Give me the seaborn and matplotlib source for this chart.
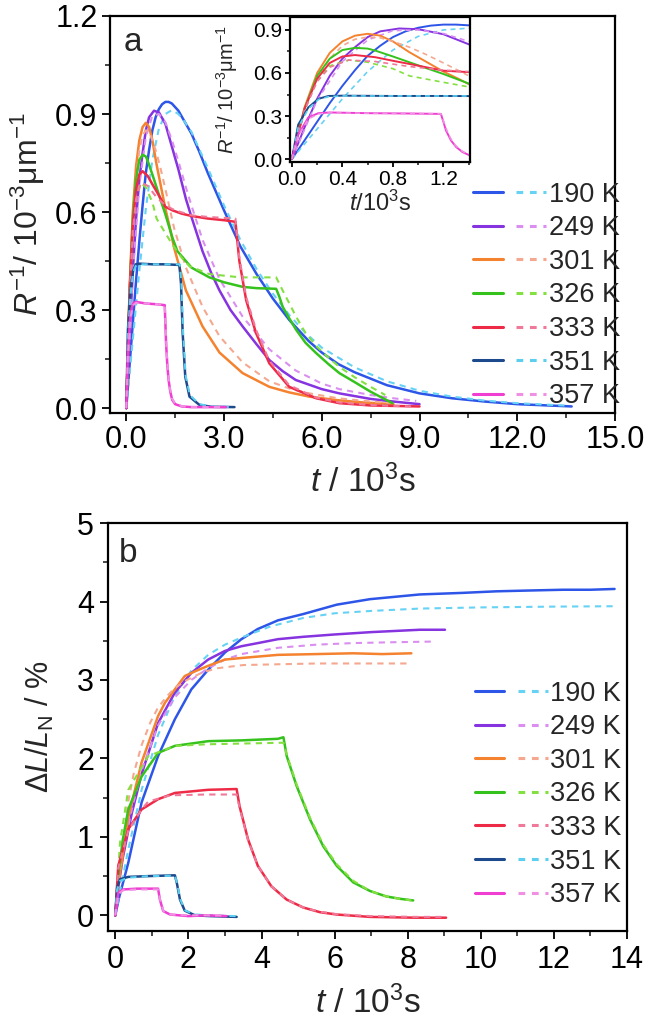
import matplotlib
matplotlib.use("Agg")
import matplotlib.pyplot as plt
from matplotlib.lines import Line2D
from matplotlib.legend_handler import HandlerTuple
from matplotlib.ticker import MultipleLocator, FormatStrFormatter
import seaborn as sns

# ---- panel a: R^-1 (10^-3 um^-1) vs t (10^3 s), measured + fit ----
a190_t = [0, 0.1, 0.2, 0.3, 0.4, 0.5, 0.6, 0.7, 0.8, 0.9, 1.0, 1.1, 1.2, 1.3, 1.4, 1.6, 1.8, 2.0, 2.24, 2.5, 2.76, 3.0, 3.5, 4.0, 4.5, 5.0, 5.6, 6.0, 6.5, 7.0, 8.0, 9.0, 10.0, 11.0, 12.0, 13.67]
a190_r = [0, 0.13, 0.26, 0.39, 0.51, 0.62, 0.72, 0.79, 0.85, 0.89, 0.915, 0.93, 0.937, 0.937, 0.932, 0.91, 0.875, 0.84, 0.785, 0.72, 0.66, 0.605, 0.495, 0.41, 0.335, 0.27, 0.205, 0.17, 0.135, 0.11, 0.07, 0.045, 0.03, 0.02, 0.012, 0.005]
a190f_t = [0, 0.2, 0.4, 0.6, 0.8, 1.0, 1.2, 1.4, 1.6, 1.8, 2.0, 2.5, 3.0, 3.5, 4.0, 4.5, 5.0, 5.5, 6.0, 7.0, 8.0, 9.0, 10.0, 11.0, 12.0, 13.6]
a190f_r = [0, 0.21, 0.42, 0.61, 0.76, 0.855, 0.9, 0.912, 0.9, 0.875, 0.845, 0.735, 0.62, 0.515, 0.425, 0.35, 0.285, 0.23, 0.185, 0.125, 0.082, 0.053, 0.035, 0.023, 0.015, 0.007]

a249_t = [0, 0.1, 0.2, 0.3, 0.4, 0.5, 0.6, 0.7, 0.85, 1.0, 1.2, 1.4, 1.6, 1.83, 2.0, 2.34, 2.6, 2.86, 3.2, 3.57, 4.0, 4.39, 4.8, 5.2, 6.0, 6.54, 7.5, 8.2, 9.0]
a249_r = [0, 0.22, 0.42, 0.58, 0.70, 0.78, 0.85, 0.89, 0.91, 0.905, 0.87, 0.80, 0.73, 0.64, 0.585, 0.48, 0.415, 0.36, 0.30, 0.25, 0.195, 0.147, 0.113, 0.086, 0.058, 0.045, 0.028, 0.02, 0.012]
a249f_t = [0, 0.2, 0.4, 0.6, 0.8, 1.0, 1.2, 1.4, 1.6, 1.83, 2.0, 2.34, 2.86, 3.57, 4.39, 5.2, 6.0, 6.54, 7.5, 8.2, 8.9]
a249f_r = [0, 0.41, 0.68, 0.83, 0.895, 0.9, 0.875, 0.82, 0.755, 0.675, 0.62, 0.515, 0.395, 0.28, 0.18, 0.115, 0.075, 0.058, 0.04, 0.03, 0.022]

a301_t = [0, 0.1, 0.2, 0.3, 0.4, 0.5, 0.6, 0.7, 0.8, 0.93, 1.06, 1.2, 1.33, 1.47, 1.83, 2.34, 2.86, 3.57, 4.39, 5.0, 5.62, 6.5, 7.3, 8.2]
a301_r = [0, 0.36, 0.6, 0.74, 0.82, 0.86, 0.873, 0.86, 0.82, 0.745, 0.68, 0.61, 0.555, 0.49, 0.36, 0.25, 0.17, 0.107, 0.065, 0.048, 0.035, 0.024, 0.017, 0.012]
a301f_t = [0, 0.1, 0.2, 0.3, 0.4, 0.5, 0.6, 0.7, 0.8, 0.93, 1.06, 1.2, 1.47, 1.83, 2.34, 2.86, 3.57, 4.39, 5.0, 5.62, 6.5, 7.3, 8.2]
a301f_r = [0, 0.33, 0.56, 0.7, 0.79, 0.835, 0.85, 0.845, 0.82, 0.78, 0.73, 0.67, 0.55, 0.43, 0.31, 0.22, 0.14, 0.082, 0.06, 0.045, 0.03, 0.022, 0.015]

a326_t = [0, 0.1, 0.2, 0.3, 0.4, 0.5, 0.6, 0.66, 0.8, 0.93, 1.06, 1.2, 1.42, 1.57, 2.0, 2.55, 3.0, 3.57, 4.0, 4.6, 4.7, 4.8, 5.0, 5.21, 5.5, 5.83, 6.2, 6.54, 7.0, 7.5, 8.17]
a326_r = [0, 0.35, 0.58, 0.7, 0.76, 0.775, 0.77, 0.756, 0.715, 0.675, 0.635, 0.593, 0.52, 0.48, 0.43, 0.40, 0.385, 0.371, 0.367, 0.365, 0.34, 0.31, 0.275, 0.24, 0.2, 0.168, 0.135, 0.107, 0.08, 0.05, 0.015]
a326f_t = [0, 0.1, 0.2, 0.3, 0.45, 0.6, 0.8, 0.93, 1.2, 1.42, 1.7, 1.94, 2.55, 3.5, 4.6, 4.8, 5.21, 5.5, 5.83, 6.2, 6.54, 7.0, 7.5, 7.95]
a326f_r = [0, 0.34, 0.55, 0.65, 0.69, 0.675, 0.63, 0.58, 0.535, 0.50, 0.46, 0.434, 0.41, 0.40, 0.40, 0.36, 0.28, 0.23, 0.19, 0.155, 0.126, 0.095, 0.065, 0.04]

a333_t = [0, 0.1, 0.2, 0.3, 0.4, 0.5, 0.66, 0.8, 0.93, 1.2, 1.42, 1.7, 2.0, 2.5, 3.0, 3.35, 3.47, 3.68, 3.98, 4.39, 5.0, 5.83, 6.54, 7.5, 9.0]
a333_r = [0, 0.35, 0.56, 0.67, 0.715, 0.725, 0.71, 0.685, 0.663, 0.616, 0.605, 0.595, 0.588, 0.58, 0.575, 0.57, 0.45, 0.33, 0.23, 0.137, 0.065, 0.03, 0.015, 0.008, 0.005]
a333f_t = [0, 0.1, 0.2, 0.3, 0.45, 0.66, 0.93, 1.2, 1.5, 2.0, 2.5, 3.0, 3.35, 3.47, 3.68, 3.98, 4.39, 5.0, 5.83, 6.54, 7.5, 8.8]
a333f_r = [0, 0.34, 0.54, 0.64, 0.69, 0.68, 0.645, 0.62, 0.605, 0.59, 0.585, 0.582, 0.58, 0.46, 0.34, 0.24, 0.145, 0.07, 0.032, 0.017, 0.009, 0.005]

a351_t = [0, 0.05, 0.13, 0.21, 0.29, 0.4, 0.8, 1.2, 1.63, 1.68, 1.73, 1.81, 1.94, 2.24, 2.6, 3.32]
a351_r = [0, 0.24, 0.36, 0.42, 0.44, 0.442, 0.44, 0.44, 0.438, 0.38, 0.23, 0.096, 0.035, 0.01, 0.004, 0.003]
a351f_t = [0, 0.05, 0.13, 0.21, 0.29, 0.4, 0.8, 1.2, 1.64, 1.69, 1.74, 1.82, 1.95, 2.24, 2.6, 3.3]
a351f_r = [0, 0.22, 0.35, 0.415, 0.435, 0.44, 0.44, 0.44, 0.44, 0.385, 0.24, 0.1, 0.04, 0.012, 0.005, 0.003]

a357_t = [0, 0.05, 0.13, 0.21, 0.3, 0.6, 0.9, 1.18, 1.2, 1.22, 1.26, 1.3, 1.35, 1.41, 1.5, 1.7, 2.0, 3.06]
a357_r = [0, 0.17, 0.29, 0.32, 0.325, 0.32, 0.318, 0.315, 0.26, 0.2, 0.13, 0.085, 0.05, 0.025, 0.012, 0.005, 0.003, 0.003]
a357f_t = [0, 0.05, 0.13, 0.21, 0.3, 0.6, 0.9, 1.18, 1.21, 1.24, 1.28, 1.33, 1.4, 1.5, 1.7, 2.0, 3.0]
a357f_r = [0, 0.16, 0.28, 0.315, 0.322, 0.32, 0.318, 0.316, 0.24, 0.17, 0.11, 0.065, 0.03, 0.014, 0.006, 0.003, 0.003]

# ---- panel b: dL/L_N (%) vs t (10^3 s), measured + fit ----
b190_t = [0, 0.1, 0.355, 0.72, 1.17, 1.63, 2.08, 2.54, 3.0, 3.45, 3.9, 4.45, 5.14, 6.06, 6.97, 8.33, 9.5, 10.43, 11.3, 12.25, 13.0, 13.66]
b190_l = [0, 0.22, 0.67, 1.44, 2.03, 2.5, 2.88, 3.13, 3.35, 3.52, 3.65, 3.76, 3.84, 3.96, 4.03, 4.09, 4.11, 4.13, 4.14, 4.15, 4.15, 4.16]
b190f_t = [0, 0.36, 0.72, 1.17, 1.63, 2.08, 2.54, 3.0, 3.5, 4.23, 5.14, 6.0, 7.0, 8.33, 10.0, 12.0, 13.66]
b190f_l = [0, 0.85, 1.6, 2.3, 2.8, 3.12, 3.32, 3.45, 3.55, 3.68, 3.79, 3.85, 3.88, 3.91, 3.925, 3.935, 3.94]

b249_t = [0, 0.08, 0.2, 0.45, 0.72, 1.17, 1.63, 2.08, 2.54, 3.0, 3.45, 3.9, 4.45, 5.14, 6.0, 7.0, 8.33, 9.02]
b249_l = [0, 0.35, 0.72, 1.3, 1.8, 2.45, 2.84, 3.09, 3.26, 3.37, 3.43, 3.47, 3.52, 3.55, 3.58, 3.61, 3.64, 3.64]
b249f_t = [0, 0.08, 0.2, 0.45, 0.72, 1.17, 1.63, 2.08, 2.54, 3.0, 3.45, 4.45, 5.5, 6.5, 7.5, 8.74]
b249f_l = [0, 0.38, 0.78, 1.35, 1.85, 2.42, 2.78, 3.0, 3.15, 3.26, 3.33, 3.41, 3.45, 3.47, 3.48, 3.49]

b301_t = [0, 0.08, 0.2, 0.355, 0.72, 1.17, 1.36, 1.63, 1.9, 2.18, 2.54, 3.0, 3.45, 4.45, 5.5, 6.5, 7.3, 8.1]
b301_l = [0, 0.4, 0.75, 1.25, 1.95, 2.54, 2.71, 2.88, 3.05, 3.11, 3.18, 3.26, 3.28, 3.32, 3.33, 3.34, 3.33, 3.34]
b301f_t = [0, 0.1, 0.17, 0.355, 0.5, 0.72, 0.96, 1.17, 1.41, 1.63, 1.96, 2.4, 2.8, 3.5, 4.45, 5.5, 6.5, 8.1]
b301f_l = [0, 0.48, 0.76, 1.45, 1.8, 2.17, 2.46, 2.65, 2.79, 2.9, 3.0, 3.1, 3.15, 3.19, 3.2, 3.21, 3.21, 3.21]

b326_t = [0, 0.08, 0.2, 0.355, 0.72, 1.17, 1.63, 2.54, 3.45, 4.45, 4.6, 4.69, 4.96, 5.33, 5.69, 6.06, 6.51, 6.97, 7.42, 7.8, 8.15]
b326_l = [0, 0.5, 0.95, 1.35, 1.77, 2.07, 2.16, 2.22, 2.23, 2.25, 2.27, 2.03, 1.65, 1.22, 0.88, 0.63, 0.42, 0.31, 0.24, 0.21, 0.19]
b326f_t = [0, 0.13, 0.355, 0.9, 1.63, 2.5, 3.5, 4.6, 4.69, 4.96, 5.33, 5.69, 6.06, 6.51, 6.97, 7.42, 7.8, 8.1]
b326f_l = [0, 0.93, 1.6, 2.03, 2.16, 2.18, 2.19, 2.2, 2.05, 1.67, 1.24, 0.9, 0.65, 0.44, 0.31, 0.24, 0.21, 0.19]

b333_t = [0, 0.08, 0.355, 0.72, 1.17, 1.63, 2.54, 3.32, 3.4, 3.63, 3.9, 4.27, 4.69, 5.14, 5.6, 6.06, 6.97, 8.2, 9.05]
b333_l = [0, 0.63, 1.1, 1.35, 1.48, 1.56, 1.6, 1.61, 1.39, 0.97, 0.63, 0.37, 0.2, 0.1, 0.04, 0.01, -0.02, -0.03, -0.03]
b333f_t = [0, 0.08, 0.355, 0.72, 0.9, 1.5, 2.5, 3.32, 3.4, 3.63, 3.9, 4.27, 4.69, 5.14, 5.6, 6.06, 7.0, 8.2, 8.95]
b333f_l = [0, 0.6, 1.08, 1.35, 1.45, 1.53, 1.54, 1.54, 1.37, 0.96, 0.63, 0.37, 0.2, 0.1, 0.045, 0.015, -0.01, -0.02, -0.02]

b351_t = [0, 0.05, 0.13, 0.355, 0.9, 1.63, 1.68, 1.77, 1.9, 2.18, 2.6, 3.32]
b351_l = [0, 0.35, 0.46, 0.49, 0.5, 0.51, 0.42, 0.2, 0.06, 0.0, -0.01, -0.02]
b351f_t = [0, 0.05, 0.13, 0.355, 0.9, 1.63, 1.69, 1.78, 1.92, 2.2, 2.6, 3.3]
b351f_l = [0, 0.33, 0.44, 0.48, 0.5, 0.505, 0.41, 0.2, 0.06, 0.01, 0.0, -0.01]

b357_t = [0, 0.08, 0.22, 0.6, 1.17, 1.22, 1.31, 1.5, 2.0, 2.5, 3.04]
b357_l = [0, 0.29, 0.33, 0.34, 0.34, 0.2, 0.055, 0.01, -0.01, 0.0, -0.01]
b357f_t = [0, 0.08, 0.22, 0.6, 1.17, 1.23, 1.32, 1.5, 2.0, 3.0]
b357f_l = [0, 0.27, 0.32, 0.33, 0.33, 0.19, 0.05, 0.01, 0.0, 0.0]

temps = ["190 K", "249 K", "301 K", "326 K", "333 K", "351 K", "357 K"]
solid_colors = ["#2d55e8", "#8633e0", "#f5822f", "#35c21c", "#ee2b47", "#1c4a8c", "#f03dd2"]
dash_colors = ["#66d2f4", "#d98ef0", "#f5a890", "#84e040", "#f0799a", "#5ccff0", "#f090e2"]

curves_a = [(a190_t, a190_r, a190f_t, a190f_r), (a249_t, a249_r, a249f_t, a249f_r),
            (a301_t, a301_r, a301f_t, a301f_r), (a326_t, a326_r, a326f_t, a326f_r),
            (a333_t, a333_r, a333f_t, a333f_r), (a351_t, a351_r, a351f_t, a351f_r),
            (a357_t, a357_r, a357f_t, a357f_r)]
curves_b = [(b190_t, b190_l, b190f_t, b190f_l), (b249_t, b249_l, b249f_t, b249f_l),
            (b301_t, b301_l, b301f_t, b301f_l), (b326_t, b326_l, b326f_t, b326f_l),
            (b333_t, b333_l, b333f_t, b333f_l), (b351_t, b351_l, b351f_t, b351f_l),
            (b357_t, b357_l, b357f_t, b357f_l)]

sns.set_style("ticks")
plt.rcParams["font.family"] = ["Liberation Sans", "DejaVu Sans"]
plt.rcParams["mathtext.fontset"] = "custom"
plt.rcParams["mathtext.rm"] = "Liberation Sans"
plt.rcParams["mathtext.it"] = "Liberation Sans:italic"
plt.rcParams["mathtext.sf"] = "Liberation Sans"
plt.rcParams["axes.linewidth"] = 1.6
plt.rcParams["axes.edgecolor"] = "black"

DASH = (0, (3, 2.5))


def draw(ax, curves, lw_exp, lw_fit):
    for i, (te, ve, tf, vf) in enumerate(curves):
        sns.lineplot(x=te, y=ve, ax=ax, color=solid_colors[i], lw=lw_exp,
                     sort=False, estimator=None)
        sns.lineplot(x=tf, y=vf, ax=ax, color=dash_colors[i], lw=lw_fit,
                     linestyle=DASH, sort=False, estimator=None)


def style_ticks(ax, size, major_len=6, minor_len=3.5, pad=4):
    ax.tick_params(which="major", direction="out", length=major_len, width=1.3,
                   labelsize=size, colors="black", pad=pad, top=False, right=False)
    ax.tick_params(which="minor", direction="out", length=minor_len, width=1.2,
                   top=False, right=False)


def add_legend(ax, anchor, size):
    handles = [(Line2D([], [], color=solid_colors[i], lw=2.2),
                Line2D([], [], color=dash_colors[i], lw=2.2, linestyle=(0, (2.2, 2.2))))
               for i in range(len(temps))]
    ax.legend(handles, temps, handler_map={tuple: HandlerTuple(ndivide=None, pad=0.5)},
              loc="center right", bbox_to_anchor=anchor, frameon=False,
              fontsize=size, handlelength=2.7, handletextpad=0.1,
              labelspacing=0.28, borderaxespad=0, borderpad=0)


fig = plt.figure(figsize=(6.49, 10.24), dpi=100)
ax_a = fig.add_axes([0.1695, 0.5967, 0.7781, 0.3877])
ax_b = fig.add_axes([0.1664, 0.0908, 0.7997, 0.3984])
ax_in = fig.add_axes([0.4468, 0.8418, 0.2773, 0.1416])

# panel a
draw(ax_a, curves_a, 1.8, 1.5)
ax_a.set_xlim(-0.5, 15)
ax_a.set_ylim(-0.015, 1.2)
ax_a.xaxis.set_major_locator(MultipleLocator(3))
ax_a.xaxis.set_minor_locator(MultipleLocator(1.5))
ax_a.yaxis.set_major_locator(MultipleLocator(0.3))
ax_a.yaxis.set_minor_locator(MultipleLocator(0.15))
ax_a.xaxis.set_major_formatter(FormatStrFormatter("%.1f"))
ax_a.yaxis.set_major_formatter(FormatStrFormatter("%.1f"))
style_ticks(ax_a, 22, pad=3)
ax_a.set_xlabel(r"$\mathit{t}$ / 10$^3$s", fontsize=24)
ax_a.set_ylabel(r"$\mathit{R}^{-1}$/ 10$^{-3}$μm$^{-1}$", fontsize=23)
ax_a.xaxis.set_label_coords(0.5, -0.13)
ax_a.yaxis.set_label_coords(-0.125, 0.5)
ax_a.text(0.046, 0.934, "a", transform=ax_a.transAxes, fontsize=24,
          ha="center", va="center")
add_legend(ax_a, (1.01, 0.296), 19.5)

# inset of panel a
draw(ax_in, curves_a, 1.4, 1.2)
ax_in.set_xlim(-0.015, 1.41)
ax_in.set_ylim(-0.02, 0.99)
ax_in.xaxis.set_major_locator(MultipleLocator(0.4))
ax_in.xaxis.set_minor_locator(MultipleLocator(0.2))
ax_in.yaxis.set_major_locator(MultipleLocator(0.3))
ax_in.yaxis.set_minor_locator(MultipleLocator(0.15))
ax_in.xaxis.set_major_formatter(FormatStrFormatter("%.1f"))
ax_in.yaxis.set_major_formatter(FormatStrFormatter("%.1f"))
style_ticks(ax_in, 15, major_len=3.5, minor_len=2, pad=2)
ax_in.set_xlabel(r"$\mathit{t}$/10$^3$s", fontsize=17)
ax_in.set_ylabel(r"$\mathit{R}^{-1}$/ 10$^{-3}$μm$^{-1}$", fontsize=14.5)
ax_in.xaxis.set_label_coords(0.5, -0.2)
ax_in.yaxis.set_label_coords(-0.28, 0.5)

# panel b
draw(ax_b, curves_b, 1.8, 1.5)
ax_b.set_xlim(-0.2, 14)
ax_b.set_ylim(-0.2, 5)
ax_b.xaxis.set_major_locator(MultipleLocator(2))
ax_b.xaxis.set_minor_locator(MultipleLocator(1))
ax_b.yaxis.set_major_locator(MultipleLocator(1))
ax_b.yaxis.set_minor_locator(MultipleLocator(0.5))
style_ticks(ax_b, 22, pad=4)
ax_b.set_xlabel(r"$\mathit{t}$ / 10$^3$s", fontsize=24)
ax_b.set_ylabel(r"Δ$\mathit{L}$/$\mathit{L}_{\mathrm{N}}$ / %", fontsize=22)
ax_b.xaxis.set_label_coords(0.5, -0.135)
ax_b.yaxis.set_label_coords(-0.1, 0.5)
ax_b.text(0.0385, 0.926, "b", transform=ax_b.transAxes, fontsize=24,
          ha="center", va="center")
add_legend(ax_b, (0.99, 0.335), 19.5)

fig.savefig("out.png", dpi=100)
